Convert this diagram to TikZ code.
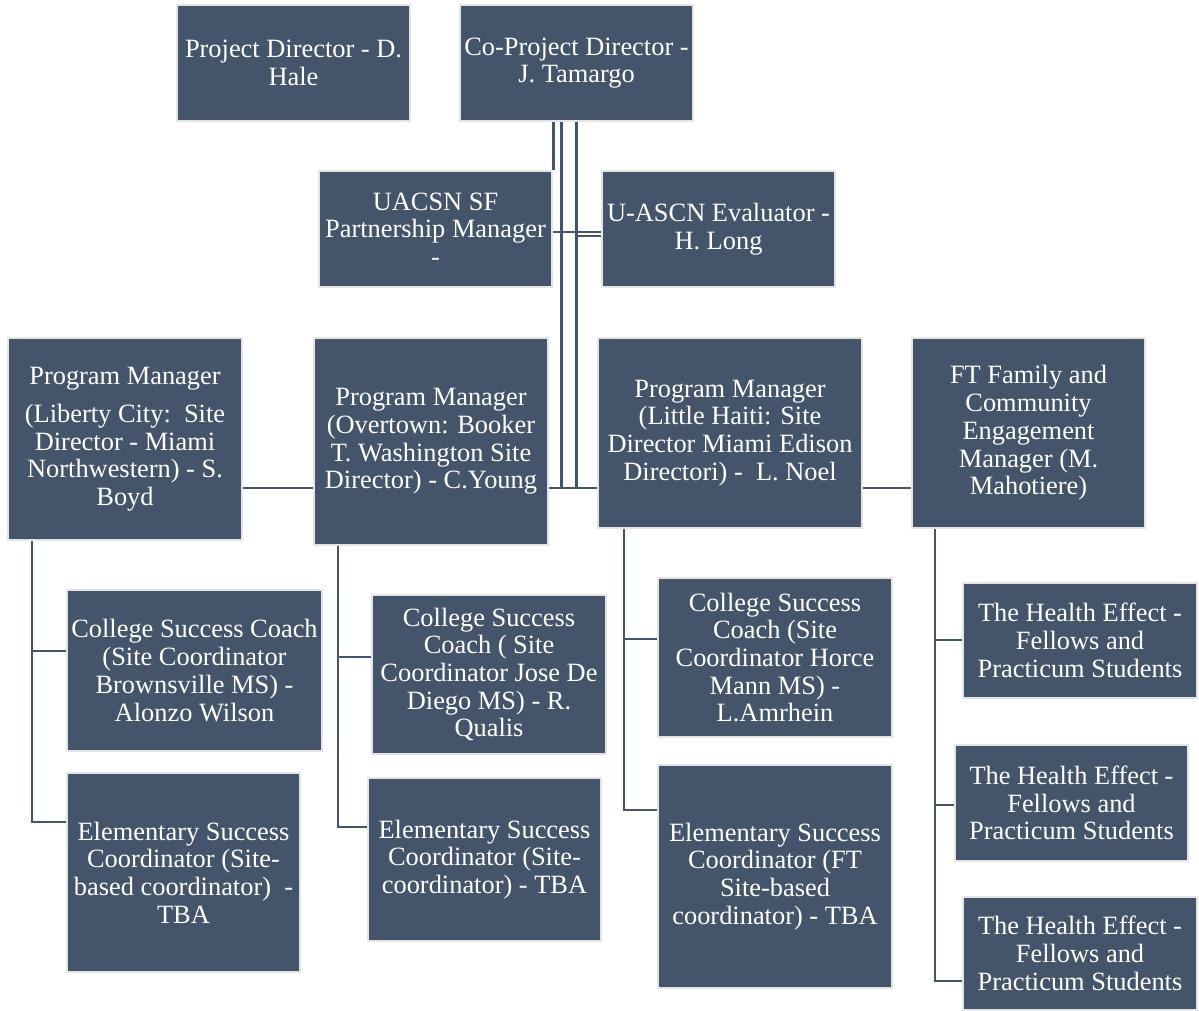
\documentclass[tikz,border=0pt]{standalone}
\usepackage{fontspec}
\setmainfont{Liberation Serif}
\definecolor{orgblue}{HTML}{44546A}
\definecolor{orgedge}{HTML}{E4E4E4}

\begin{document}
\begin{tikzpicture}[x=0.75pt,y=-0.75pt,
  orgbox/.style 2 args={rectangle, fill=orgblue, draw=orgedge, line width=2pt, text=white, align=center, inner sep=0pt,
    minimum width=#1*0.75pt, minimum height=#2*0.75pt, font=\fontsize{19.8}{20.8}\selectfont,
    execute at begin node={\rule{0pt}{18pt}}},
  link/.style={draw=orgblue, line width=2.2pt}]
\useasboundingbox (0,0) rectangle (1199,1010);
\node[orgbox={233}{116}] (pd) at (293.5,63) {Project Director - D.\\Hale};
\node[orgbox={233}{116}] (cpd) at (576.5,63) {Co-Project Director -\\J. Tamargo};
\node[orgbox={233}{116}] (pm) at (435.5,229) {UACSN SF\\Partnership Manager\\-};
\node[orgbox={233}{116}] (ev) at (718.5,229) {U-ASCN Evaluator -\\H. Long};
\node[orgbox={234}{202}] (pmlib) at (125,439) {Program Manager\\[8pt](Liberty City:\ \ Site\\Director - Miami\\Northwestern) - S.\\Boyd};
\node[orgbox={234}{207}] (pmover) at (431,441.5) {Program Manager\\(Overtown: Booker\\T. Washington Site\\Director) - C.Young};
\node[orgbox={264}{190}] (pmhaiti) at (730,433) {Program Manager\\(Little Haiti: Site\\Director Miami Edison\\Directori) -\ \ L. Noel};
\node[orgbox={233}{190}] (ftfam) at (1028.5,433) {FT Family and\\Community\\Engagement\\Manager (M.\\Mahotiere)};
\node[orgbox={255}{161}] (cscbrown) at (194.5,670.5) {College Success Coach\\(Site Coordinator\\Brownsville MS) -\\Alonzo Wilson};
\node[orgbox={233}{199}] (esbrown) at (183.5,872.5) {Elementary Success\\Coordinator (Site-\\based coordinator)\ \ -\\TBA};
\node[orgbox={234}{159}] (cscdiego) at (489,674.5) {College Success\\Coach ( Site\\Coordinator Jose De\\Diego MS) - R.\\Qualis};
\node[orgbox={233}{163}] (esdiego) at (484.5,859.5) {Elementary Success\\Coordinator (Site-\\coordinator) - TBA};
\node[orgbox={234}{159}] (cscmann) at (775,657.5) {College Success\\Coach (Site\\Coordinator Horce\\Mann MS) -\\L.Amrhein};
\node[orgbox={234}{223}] (esmann) at (775,876.5) {Elementary Success\\Coordinator (FT\\Site-based\\coordinator) - TBA};
\node[orgbox={234}{115}] (heone) at (1080,640.5) {The Health Effect -\\Fellows and\\Practicum Students};
\node[orgbox={233}{116}] (hetwo) at (1071.5,803) {The Health Effect -\\Fellows and\\Practicum Students};
\node[orgbox={234}{113}] (hethree) at (1080,953.5) {The Health Effect -\\Fellows and\\Practicum Students};
\coordinate (row) at (0,488);
\coordinate (trunkL) at (32,0);
\coordinate (trunkO) at (338,0);
\coordinate (trunkH) at (624,0);
\coordinate (trunkF) at (935,0);
\draw[link] (cpd.south -| pm.north east) -- (pm.north east);
\draw[link] ([xshift=-11.25pt]cpd.south) -- ([xshift=-11.25pt]cpd.south |- row);
\draw[link] (cpd.south) -- (cpd.south |- row);
\draw[link] (pm.east |- 0,232) -- (ev.west |- 0,232);
\draw[link] (cpd.south |- 0,236) -- (ev.west |- 0,236);
\draw[link] (pmlib.east |- row) -- (pmover.west |- row);
\draw[link] (pmover.east |- row) -- (pmhaiti.west |- row);
\draw[link] (pmhaiti.east |- row) -- (ftfam.west |- row);
\draw[link] (pmlib.south -| trunkL) |- (esbrown.west |- 0,822);
\draw[link] (pmlib.south -| trunkL) |- (cscbrown.west |- 0,651);
\draw[link] (pmover.south -| trunkO) |- (esdiego.west |- 0,827);
\draw[link] (pmover.south -| trunkO) |- (cscdiego.west |- 0,657);
\draw[link] (pmhaiti.south -| trunkH) |- (esmann.west |- 0,810);
\draw[link] (pmhaiti.south -| trunkH) |- (cscmann.west |- 0,639);
\draw[link] (ftfam.south -| trunkF) |- (hethree.west |- 0,981);
\draw[link] (ftfam.south -| trunkF) |- (hetwo.west |- 0,805);
\draw[link] (ftfam.south -| trunkF) |- (heone.west |- 0,640);
\end{tikzpicture}
\end{document}
